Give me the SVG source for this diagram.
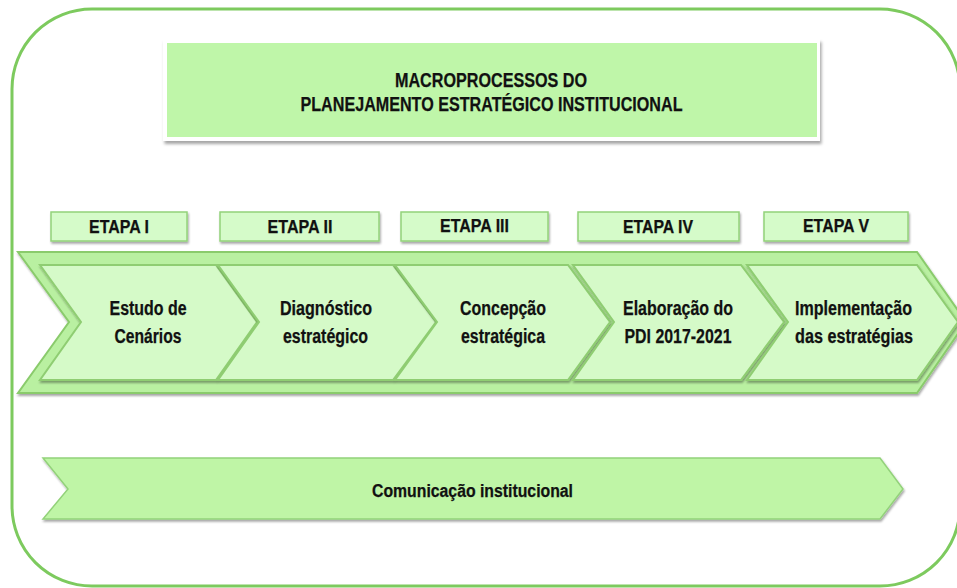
<svg xmlns="http://www.w3.org/2000/svg" width="957" height="588" viewBox="0 0 957 588">
  <defs>
    <filter id="sh" x="-10%" y="-20%" width="120%" height="150%">
      <feDropShadow dx="1.5" dy="3" stdDeviation="1.8" flood-color="#000" flood-opacity="0.35"/>
    </filter>
    <filter id="shs" x="-10%" y="-20%" width="120%" height="150%">
      <feDropShadow dx="1" dy="2" stdDeviation="1.2" flood-color="#000" flood-opacity="0.35"/>
    </filter>
    <style>
      .t { font-family: "Liberation Sans", Arial, sans-serif; font-weight: bold; fill: #111; text-anchor: middle; stroke: #111; stroke-width: 0.25; }
      .title { font-size: 20px; }
      .lab { font-size: 18px; }
      .ch { font-size: 20px; }
      .etapa { fill: #d5fbc9; stroke: #93d27a; stroke-width: 1.5; filter: url(#shs); }
      .chev { fill: #d5fac8; stroke: #8fcd72; stroke-width: 2; filter: url(#shs); }
    </style>
  </defs>

  <rect x="0" y="0" width="957" height="588" fill="#ffffff"/>

  <g id="frame">
    <rect x="12" y="9" width="948" height="577" rx="80" ry="80" fill="none" stroke="#7dca5e" stroke-width="3"/>
  </g>

  <g id="title">
    <rect x="163" y="39" width="657" height="102" fill="#ffffff" filter="url(#sh)"/>
    <rect x="167" y="43" width="650" height="94" fill="#bff6a9"/>
    <text class="t title" x="491" y="87" textLength="192" lengthAdjust="spacingAndGlyphs">MACROPROCESSOS DO</text>
    <text class="t title" x="491.5" y="111" textLength="382" lengthAdjust="spacingAndGlyphs">PLANEJAMENTO ESTRATÉGICO INSTITUCIONAL</text>
  </g>

  <g id="etapa1">
    <rect class="etapa" x="51" y="212" width="136" height="29"/>
    <text class="t lab" x="119" y="233" textLength="60" lengthAdjust="spacingAndGlyphs">ETAPA I</text>
  </g>
  <g id="etapa2">
    <rect class="etapa" x="220" y="212" width="159" height="29"/>
    <text class="t lab" x="300" y="233" textLength="65" lengthAdjust="spacingAndGlyphs">ETAPA II</text>
  </g>
  <g id="etapa3">
    <rect class="etapa" x="401" y="212" width="147" height="29"/>
    <text class="t lab" x="474.5" y="232" textLength="69" lengthAdjust="spacingAndGlyphs">ETAPA III</text>
  </g>
  <g id="etapa4">
    <rect class="etapa" x="578" y="212" width="161" height="29"/>
    <text class="t lab" x="658" y="233" textLength="70" lengthAdjust="spacingAndGlyphs">ETAPA IV</text>
  </g>
  <g id="etapa5">
    <rect class="etapa" x="764" y="212" width="144" height="29"/>
    <text class="t lab" x="836" y="232" textLength="66" lengthAdjust="spacingAndGlyphs">ETAPA V</text>
  </g>

  <g id="band">
    <polygon points="18,252 917,252 966,322 917,393 18,393 69,322" fill="#b9f0a1" stroke="#8acb6c" stroke-width="2" filter="url(#shs)"/>
  </g>

  <g id="stage1">
    <polygon class="chev" points="40,265 216,265 257,322 216,380 40,380 81,322"/>
    <text class="t ch" x="148" y="315" textLength="77" lengthAdjust="spacingAndGlyphs">Estudo de</text>
    <text class="t ch" x="148" y="343" textLength="67" lengthAdjust="spacingAndGlyphs">Cenários</text>
  </g>
  <g id="stage2">
    <polygon class="chev" points="218,265 393,265 436,322 393,380 218,380 259,322"/>
    <text class="t ch" x="326" y="315" textLength="92" lengthAdjust="spacingAndGlyphs">Diagnóstico</text>
    <text class="t ch" x="325.5" y="343" textLength="85" lengthAdjust="spacingAndGlyphs">estratégico</text>
  </g>
  <g id="stage3">
    <polygon class="chev" points="395,265 568,265 610,322 568,380 395,380 437,322"/>
    <text class="t ch" x="503" y="315" textLength="86" lengthAdjust="spacingAndGlyphs">Concepção</text>
    <text class="t ch" x="503" y="343" textLength="84" lengthAdjust="spacingAndGlyphs">estratégica</text>
  </g>
  <g id="stage4">
    <polygon class="chev" points="573,265 741,265 784,322 741,380 573,380 614,322"/>
    <text class="t ch" x="678" y="315" textLength="110" lengthAdjust="spacingAndGlyphs">Elaboração do</text>
    <text class="t ch" x="678" y="343" textLength="107" lengthAdjust="spacingAndGlyphs">PDI 2017-2021</text>
  </g>
  <g id="stage5">
    <polygon class="chev" points="747,265 917,265 958,322 917,380 747,380 788,322"/>
    <text class="t ch" x="853.5" y="315" textLength="117" lengthAdjust="spacingAndGlyphs">Implementação</text>
    <text class="t ch" x="854" y="343" textLength="118" lengthAdjust="spacingAndGlyphs">das estratégias</text>
  </g>

  <g id="comunicacao">
    <polygon points="43,458 880,458 903,489 880,519 43,519 68,489" fill="#bff5a6" stroke="#93d27a" stroke-width="1.5" filter="url(#shs)"/>
    <text class="t lab" x="472.5" y="497" textLength="201" lengthAdjust="spacingAndGlyphs">Comunicação institucional</text>
  </g>

  <g id="connectors"></g>
</svg>
